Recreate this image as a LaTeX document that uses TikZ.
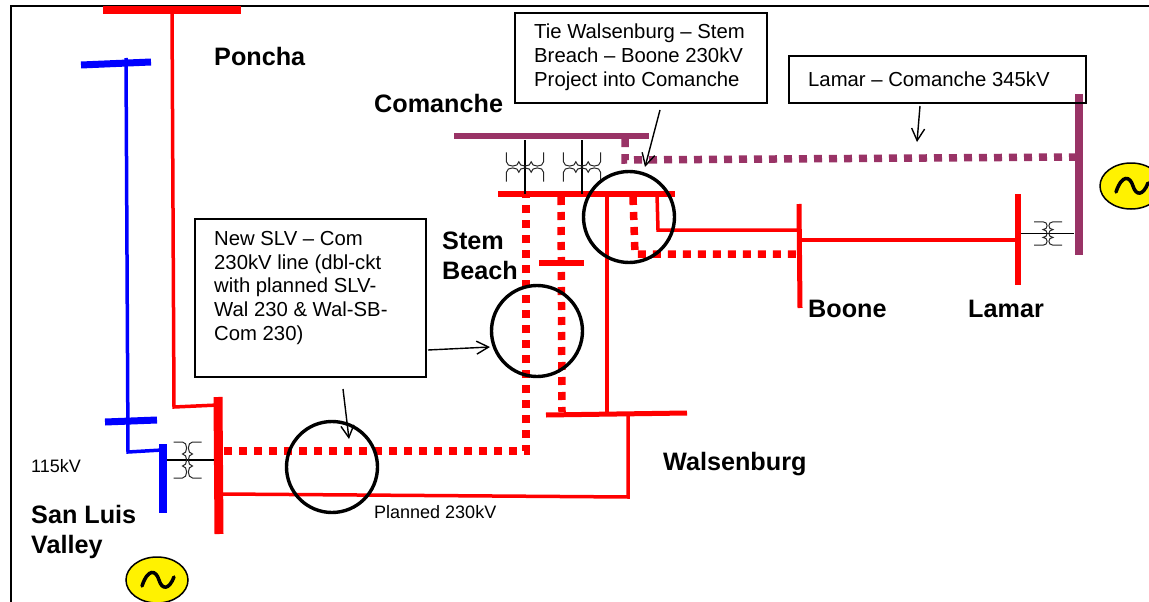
\documentclass[tikz,border=0pt]{standalone}
\usepackage{fontspec}
\setmainfont{Liberation Sans}
\usetikzlibrary{shapes.geometric,arrows.meta}
\definecolor{plum}{HTML}{993366}
\tikzset{
  x=1pt,y=-1pt,
  redbus/.style={draw=red,line width=#1},
  solid red/.style={draw=red,line width=3.5pt,line join=miter},
  reddots/.style={draw=red,line width=7.5pt,dash pattern=on 8pt off 7pt},
  plumdots/.style={draw=plum,line width=7.5pt,dash pattern=on 8pt off 7pt},
  blueline/.style={draw=blue,line width=3.5pt},
  ring/.style={circle,draw=black,line width=3.4pt,minimum size=91pt,inner sep=0pt},
  textbox/.style={draw=black,line width=1.7pt,outer sep=0pt,anchor=north west,inner sep=0pt},
  boxtext/.style={anchor=north west,align=left,inner sep=0pt,font=\fontsize{20.3}{23.7}\selectfont},
  boldlabel/.style={anchor=base west,inner sep=0pt,font=\fontsize{25.2}{30}\selectfont\bfseries,align=left},
  plainlabel/.style={anchor=base west,inner sep=0pt,font=\fontsize{18}{22}\selectfont},
  note/.style={draw=black,line width=1.4pt,-{Straight Barb[length=12pt,width=13pt]}},
  gen/.style={ellipse,draw=black,line width=1.5pt,fill=yellow,minimum width=62pt,minimum height=46pt,inner sep=0pt},
  tie/.style={draw=black,line width=1.2pt},
  coilset/.pic={
    \draw[black!85,line width=1pt]
      (-14,-18) -- (-5,-18)
      .. controls (0.5,-18) and (0.5,-6) .. (-5,-6)
      .. controls (0.5,-6) and (0.5,6) .. (-5,6)
      .. controls (0.5,6) and (0.5,18) .. (-5,18) -- (-14,18);
    \draw[black!85,line width=1pt]
      (14,-18) -- (5,-18)
      .. controls (-0.5,-18) and (-0.5,-6) .. (5,-6)
      .. controls (-0.5,-6) and (-0.5,6) .. (5,6)
      .. controls (-0.5,6) and (-0.5,18) .. (5,18) -- (14,18);
  },
  tilde/.pic={
    \draw[black,line width=3.5pt,line cap=round]
      (-15,6) .. controls (-9,-12) and (-1,-10) .. (2,0)
      .. controls (5,10) and (12,10) .. (17,-3);
  }
}
\begin{document}
\begin{tikzpicture}
\clip (0,0) rectangle (1149,602);
\fill[white] (0,0) rectangle (1149,602);
% frame
\coordinate (fa) at (1149,6);
\coordinate (fb) at (11,6);
\coordinate (fc) at (11,602);
\draw[black,line width=1.7pt] (fa) -- (fb) -- (fc);

% bus end points
\coordinate (ponchaL) at (103,10);   \coordinate (ponchaR) at (241,10);
\coordinate (ponchaT) at (172,10);
\coordinate (slvR1) at (218,397);    \coordinate (slvR2) at (219,534);
\coordinate (slvB1) at (163,444);    \coordinate (slvB2) at (163,513);
\coordinate (blueA1) at (81,65);     \coordinate (blueA2) at (151,62);
\coordinate (blueB1) at (105,422);   \coordinate (blueB2) at (157,420);
\coordinate (comL) at (454,136);     \coordinate (comR) at (649,136);
\coordinate (sbL) at (498,194);      \coordinate (sbR) at (675,194);
\coordinate (stemL) at (539,263);    \coordinate (stemR) at (584,263);
\coordinate (walL) at (546,415);     \coordinate (walR) at (687,413);
\coordinate (booT) at (799,204);     \coordinate (booB) at (800,308);
\coordinate (lamT) at (1018,194);    \coordinate (lamB) at (1018,285);
\coordinate (plT) at (1079,94);      \coordinate (plB) at (1079,255);

% solid lines
\coordinate (p1) at (174,407);
\coordinate (p2) at (218,405);
\draw[solid red] (ponchaT) -- (p1) -- (p2);
\coordinate (b0) at (126,58);
\coordinate (b1) at (128,452);
\coordinate (b2) at (162,450);
\draw[blueline] (b0) -- (b1) -- (b2);
\coordinate (w1) at (628,413);
\coordinate (w2) at (628,497);
\coordinate (w3) at (222,494);
\draw[solid red] (w1) -- (w2) -- (w3);
\coordinate (sb1) at (607,194);
\coordinate (w4) at (607,414);
\draw[solid red] (sb1) -- (w4);
\coordinate (sb2) at (657,194);
\coordinate (sb3) at (658,230);
\coordinate (bo1) at (799,230);
\draw[solid red] (sb2) -- (sb3) -- (bo1);
\coordinate (bo2) at (800,240);
\coordinate (la1) at (1018,240);
\draw[solid red] (bo2) -- (la1);

% dotted lines
\coordinate (d1) at (224,451);
\coordinate (d2) at (526,451);
\coordinate (d3) at (526,197);
\draw[reddots] (d1) -- (d2) -- (d3);
\coordinate (e1) at (561,197);
\coordinate (e2) at (562,412);
\draw[reddots] (e1) -- (e2);
\coordinate (f1) at (633,197);
\coordinate (f2) at (635,254);
\coordinate (f3) at (798,254);
\draw[reddots] (f1) -- (f2) -- (f3);
\coordinate (g1) at (625,139);
\coordinate (g2) at (625,160);
\coordinate (g3) at (1076,157);
\draw[plumdots] (g1) -- (g2) -- (g3);

% buses
\draw[redbus=8pt] (ponchaL) -- (ponchaR);
\draw[redbus=9pt] (slvR1) -- (slvR2);
\draw[draw=blue,line width=8pt] (slvB1) -- (slvB2);
\draw[draw=blue,line width=7pt] (blueA1) -- (blueA2);
\draw[draw=blue,line width=7pt] (blueB1) -- (blueB2);
\draw[draw=plum,line width=6pt] (comL) -- (comR);
\draw[redbus=6.5pt] (sbL) -- (sbR);
\draw[redbus=6pt] (stemL) -- (stemR);
\draw[redbus=5pt] (walL) -- (walR);
\draw[redbus=5pt] (booT) -- (booB);
\draw[redbus=6pt] (lamT) -- (lamB);
\draw[draw=plum,line width=8pt] (plT) -- (plB);

% transformers
\coordinate (t1a) at (167,460); \coordinate (t1b) at (214,460);
\draw[tie] (t1a) -- (t1b);
\pic at (187.5,460) {coilset};
\coordinate (t2a) at (1021,233.5); \coordinate (t2b) at (1074,233.5);
\draw[tie] (t2a) -- (t2b);
\pic[xscale=1,yscale=0.65] at (1048,233.5) {coilset};
\coordinate (t3a) at (525,140); \coordinate (t3b) at (525,194);
\draw[tie] (t3a) -- (t3b);
\pic[rotate=90,xscale=1.05,yscale=1.03] at (525,167) {coilset};
\coordinate (t4a) at (582,140); \coordinate (t4b) at (582,194);
\draw[tie] (t4a) -- (t4b);
\pic[rotate=90,xscale=1.05,yscale=1.03] at (582,167) {coilset};

% circles
\node[ring] (ringA) at (629,217) {};
\node[ring] (ringB) at (537,331) {};
\node[ring] (ringC) at (332,467) {};

% generators
\node[gen] (genA) at (157,580) {};
\pic at (157,580) {tilde};
\node[gen] (genB) at (1131,186) {};
\pic at (1131,186) {tilde};

% text boxes
\node[textbox,minimum width=252pt,minimum height=90pt] (boxTie) at (515,13) {};
\node[boxtext] (txtTie) at (534,24) {Tie Walsenburg -- Stem\\Breach -- Boone 230kV\\Project into Comanche};
\node[textbox,minimum width=297pt,minimum height=47pt] (boxLam) at (789,56) {};
\node[boxtext] (txtLam) at (808,71.5) {Lamar -- Comanche 345kV};
\node[textbox,minimum width=231pt,minimum height=158pt] (boxNew) at (195,219) {};
\node[boxtext] (txtNew) at (214,231) {New SLV -- Com\\230kV line (dbl-ckt\\with planned SLV-\\Wal 230 \& Wal-SB-\\Com 230)};

% arrows
\coordinate (a1s) at (660,110); \coordinate (a1e) at (645,167);
\draw[note] (a1s) -- (a1e);
\coordinate (a2s) at (920,106); \coordinate (a2e) at (917,142);
\draw[note] (a2s) -- (a2e);
\coordinate (a3s) at (428,350); \coordinate (a3e) at (490,347);
\draw[note] (a3s) -- (a3e);
\coordinate (a4s) at (343,389); \coordinate (a4e) at (349,439);
\draw[note] (a4s) -- (a4e);

% labels
\node[boldlabel] (lPoncha) at (214,66) {Poncha};
\node[boldlabel] (lComanche) at (374,112) {Comanche};
\node[boldlabel] (lStem) at (442,249) {Stem};
\node[boldlabel] (lBeach) at (442,279) {Beach};
\node[boldlabel] (lBoone) at (808,317) {Boone};
\node[boldlabel] (lLamar) at (968,317) {Lamar};
\node[boldlabel] (lWal) at (663,470) {Walsenburg};
\node[boldlabel] (lSan) at (31,523) {San Luis};
\node[boldlabel] (lVal) at (31,553) {Valley};
\node[plainlabel] (l115) at (31,472) {115kV};
\node[plainlabel] (lPlan) at (374,518) {Planned 230kV};
\end{tikzpicture}
\end{document}
